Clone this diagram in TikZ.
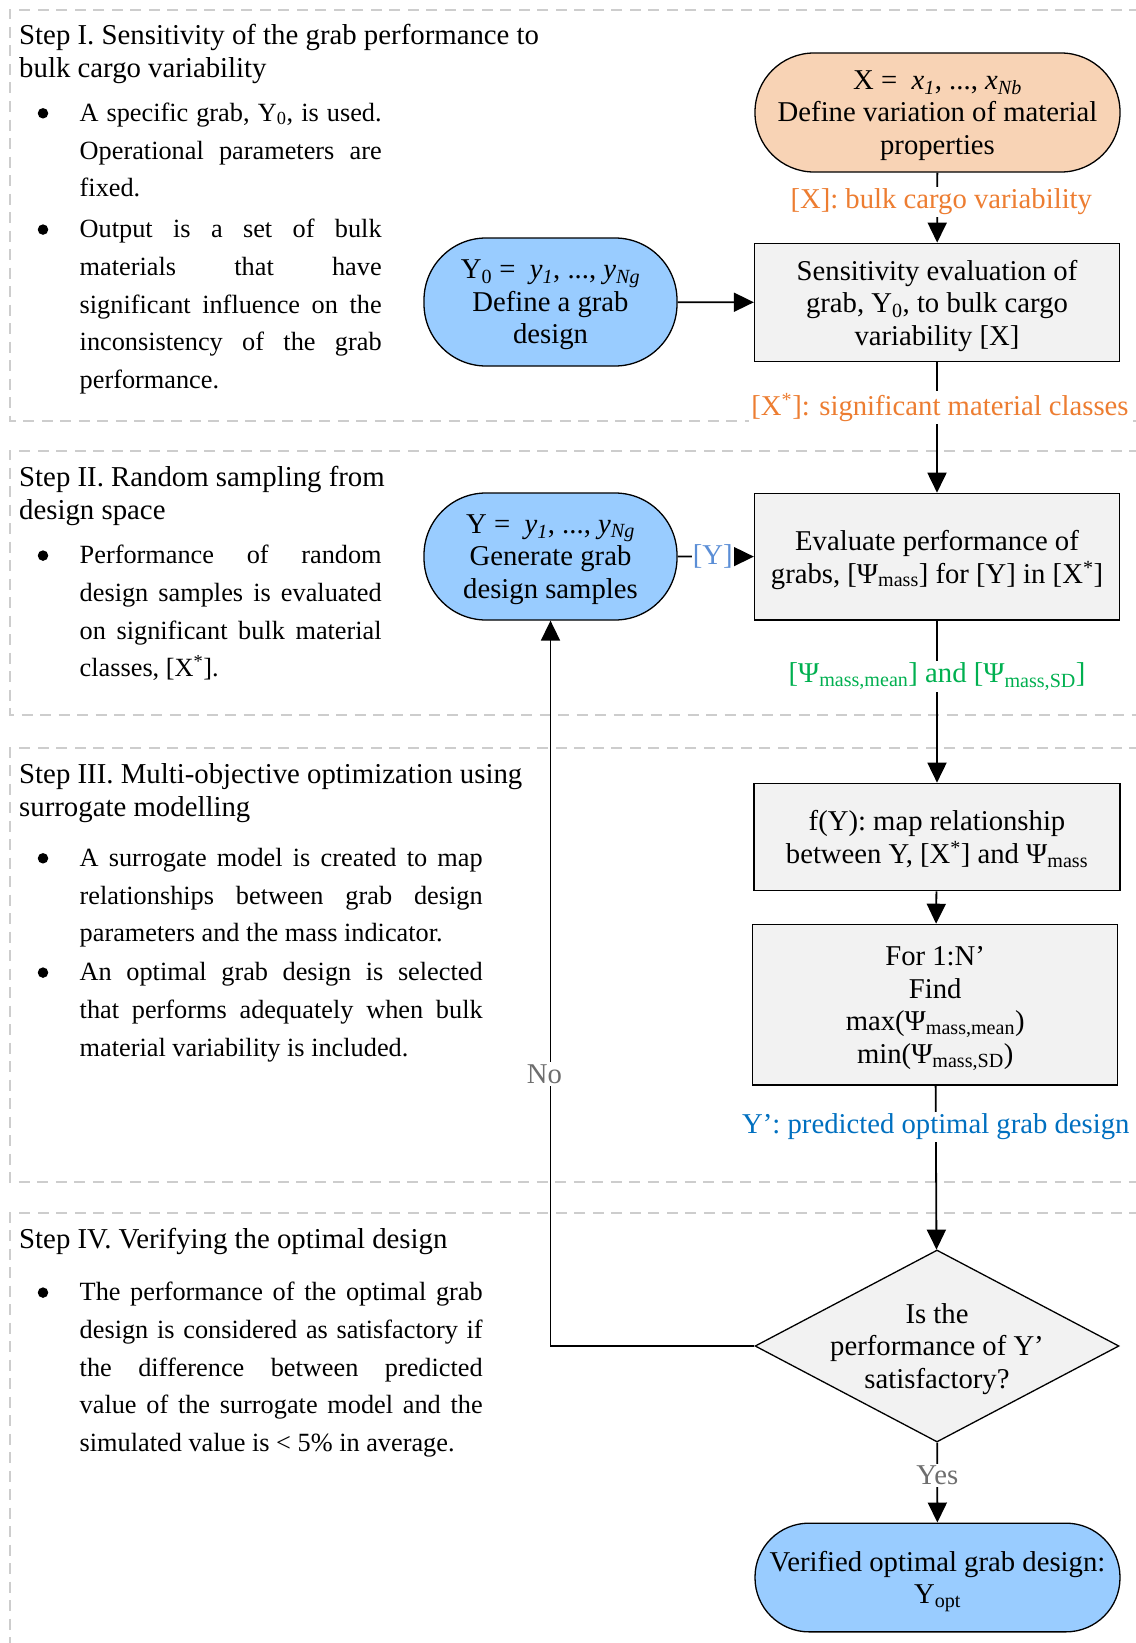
\documentclass[tikz,border=0pt]{standalone}
\usepackage{fontspec}
\setmainfont{Liberation Serif}
\usetikzlibrary{arrows.meta,shapes.geometric}
\definecolor{peach}{HTML}{F8D3B5}
\definecolor{skyblue}{HTML}{99CCFF}
\definecolor{boxgray}{HTML}{F2F2F2}
\definecolor{orangelab}{HTML}{ED7D31}
\definecolor{greenlab}{HTML}{00B050}
\definecolor{bluelab}{HTML}{0070C0}
\definecolor{ylab}{HTML}{5B8ED6}
\definecolor{graylab}{HTML}{6E6E6E}
\definecolor{dashgray}{HTML}{CDCDCD}
\newcommand{\nodefnt}{\fontsize{28.7}{32.5}\selectfont}
\newcommand{\titlefnt}{\fontsize{28.8}{33}\selectfont}
\newcommand{\bodyfnt}{\fontsize{26.3}{37.8}\selectfont}
\newcommand{\jline}[2]{\makebox[#1pt][s]{#2}}
\tikzset{
  secline/.style={draw=dashgray, line width=1.8pt, dash pattern=on 11pt off 7.5pt},
  conn/.style={line width=1.8pt, -{Triangle[length=20pt,width=19pt]}},
  nbox/.style={inner sep=0pt, align=center, font=\nodefnt, draw=black, line width=1.3pt, text depth=0pt},
  gbox/.style={nbox, rectangle, fill=boxgray},
  pill/.style={nbox, rectangle, fill=skyblue},
  lab/.style={fill=white, inner sep=2pt, font=\nodefnt},
  btxt/.style={anchor=north west, inner sep=0pt, align=left, font=\bodyfnt},
  ttxt/.style={anchor=north west, inner sep=0pt, align=left, font=\titlefnt},
  bdot/.style={circle, fill=black, inner sep=0pt, minimum size=10.5pt},
}
\begin{document}
\begin{tikzpicture}[x=1pt,y=-1pt]
\useasboundingbox (0,0) rectangle (1135,1643);

% section frames
\draw[secline] (1140,10) -- (10,10) -- (10,420.7) -- (1140,420.7);
\draw[secline] (1140,450.7) -- (10,450.7) -- (10,715) -- (1140,715);
\draw[secline] (1140,748) -- (10,748) -- (10,1181.7) -- (1140,1181.7);
\draw[secline] (1140,1213) -- (10,1213) -- (10,1650);

% Section I text
\node[ttxt] (t1) at (19,21.5) {\strut Step I. Sensitivity of the grab performance to\\bulk cargo variability};
\node[bdot] (d1a) at (43,113.3) {};
\node[btxt] (b1a) at (79.5,94.6) {\strut\jline{302}{A specific grab, Y\textsubscript{0}, is used.}\\\jline{302}{Operational parameters are}\\fixed.};
\node[bdot] (d1b) at (43,229.6) {};
\node[btxt] (b1b) at (79.5,210.9) {\strut\jline{302}{Output is a set of bulk}\\\jline{302}{materials that have}\\\jline{302}{significant influence on the}\\\jline{302}{inconsistency of the grab}\\performance.};

% Section II text
\node[ttxt] (t2) at (19,463) {\strut Step II. Random sampling from\\design space};
\node[bdot] (d2a) at (43,555.6) {};
\node[btxt] (b2a) at (79.5,536.9) {\strut\jline{302}{Performance of random}\\\jline{302}{design samples is evaluated}\\\jline{302}{on significant bulk material}\\classes, [X\textsuperscript{*}].};

% Section III text
\node[ttxt] (t3) at (19,759.8) {\strut Step III. Multi-objective optimization using\\surrogate modelling};
\node[bdot] (d3a) at (43,858.3) {};
\node[btxt] (b3a) at (79.5,839.6) {\strut\jline{403}{A surrogate model is created to map}\\\jline{403}{relationships between grab design}\\parameters and the mass indicator.};
\node[bdot] (d3b) at (43,972.6) {};
\node[btxt] (b3b) at (79.5,953.9) {\strut\jline{403}{An optimal grab design is selected}\\\jline{403}{that performs adequately when bulk}\\material variability is included.};

% Section IV text
\node[ttxt] (t4) at (19,1225.4) {\strut Step IV. Verifying the optimal design};
\node[bdot] (d4a) at (43,1292.6) {};
\node[btxt] (b4a) at (79.5,1273.9) {\strut\jline{403}{The performance of the optimal grab}\\\jline{403}{design is considered as satisfactory if}\\\jline{403}{the difference between predicted}\\\jline{403}{value of the surrogate model and the}\\simulated value is < 5\% in average.};

% flowchart nodes
\node[nbox, fill=peach, rounded corners=59pt, minimum width=365pt, minimum height=119pt] (X) at (937.5,112.5)
  {X =\ \ \textit{x}\textsubscript{\textit{1}}, ..., \textit{x}\textsubscript{\textit{Nb}}\\Define variation of material\\properties};
\node[gbox, minimum width=365pt, minimum height=118.5pt] (Sens) at (937,302.5)
  {Sensitivity evaluation of\\grab, Y\textsubscript{0}, to bulk cargo\\variability [X]};
\node[pill, rounded corners=62pt, minimum width=253pt, minimum height=128pt] (Y0) at (550.5,302)
  {Y\textsubscript{0} =\ \ \textit{y}\textsubscript{\textit{1}}, ..., \textit{y}\textsubscript{\textit{Ng}}\\Define a grab\\design};
\node[gbox, minimum width=365pt, minimum height=126.7pt] (Eval) at (937,556.7)
  {Evaluate performance of\\grabs, [Ψ\textsubscript{mass}] for [Y] in [X\textsuperscript{*}]};
\node[pill, rounded corners=62pt, minimum width=253pt, minimum height=127pt] (Y) at (550.5,556.5)
  {Y =\ \ \textit{y}\textsubscript{\textit{1}}, ..., \textit{y}\textsubscript{\textit{Ng}}\\Generate grab\\design samples};
\node[gbox, minimum width=366pt, minimum height=107.4pt] (fY) at (937,837)
  {f(Y): map relationship\\between Y, [X\textsuperscript{*}] and Ψ\textsubscript{mass}};
\node[gbox, minimum width=365pt, minimum height=160.7pt] (For) at (935.2,1004.7)
  {For 1:N’\\Find\\max(Ψ\textsubscript{mass,mean})\\min(Ψ\textsubscript{mass,SD})};
\node[nbox, diamond, fill=boxgray, minimum width=364pt, minimum height=192pt] (Dia) at (937,1346) {};
\node[inner sep=0pt, align=center, font=\nodefnt, text depth=0pt] (DiaT) at (Dia.center) {Is the\\performance of Y’\\satisfactory?};
\node[pill, rounded corners=54pt, minimum width=365pt, minimum height=108.7pt] (Ver) at (937.5,1577.5)
  {Verified optimal grab design:\\Y\textsubscript{opt}};

% connectors
\draw[conn] (X) -- node[lab, text=orangelab, pos=0.42, xshift=4pt] (lx) {[X]: bulk cargo variability} (Sens);
\draw[conn] (Y0) -- (Sens);
\draw[conn] (Sens) -- node[lab, text=orangelab, pos=0.345, xshift=3pt] (lxs) {[X\textsuperscript{*}]: significant material classes} (Eval);
\draw[conn] (Y) -- node[lab, text=ylab, pos=0.46, inner sep=1pt] (ly) {[Y]} (Eval);
\draw[conn] (Eval) -- node[lab, text=greenlab, pos=0.345] (lpsi) {[Ψ\textsubscript{mass,mean}] and [Ψ\textsubscript{mass,SD}]} (fY);
\draw[conn] (fY) -- (For);
\draw[conn] (For) -- node[lab, text=bluelab, pos=0.25] (lyp) {Y’: predicted optimal grab design} (Dia);
\draw[conn] (Dia) -- node[lab, text=graylab, pos=0.41] (lyes) {Yes} (Ver);
\coordinate (fb) at (Y.south |- Dia.west);
\draw[conn] (Dia.west) -- (fb) -- node[lab, text=graylab, pos=0.375, xshift=-6pt] (lno) {No} (Y.south);
\end{tikzpicture}
\end{document}
